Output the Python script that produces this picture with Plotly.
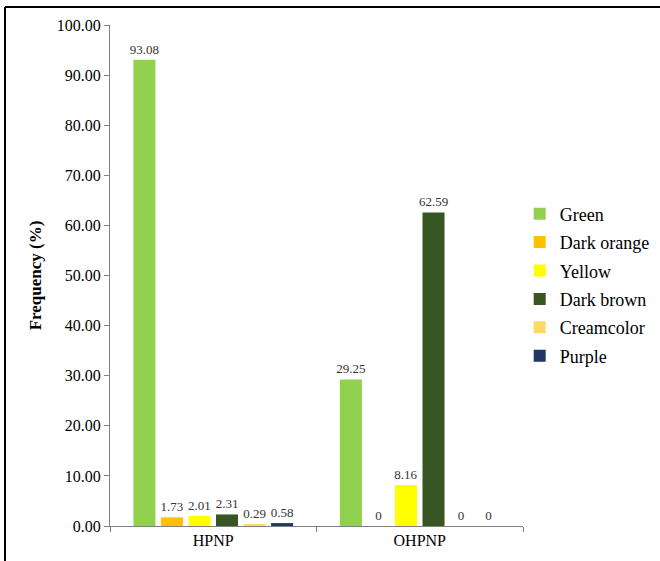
import plotly.graph_objects as go

categories = ["HPNP", "OHPNP"]
series_names = ["Green", "Dark orange", "Yellow", "Dark brown", "Creamcolor", "Purple"]
green = [93.08, 29.25]
dark_orange = [1.73, 0]
yellow = [2.01, 8.16]
dark_brown = [2.31, 62.59]
creamcolor = [0.29, 0]
purple = [0.58, 0]
y_ticks = [0, 10, 20, 30, 40, 50, 60, 70, 80, 90, 100]

series_values = [green, dark_orange, yellow, dark_brown, creamcolor, purple]
colors = ["#92D050", "#FFC000", "#FFFF00", "#375623", "#FFD966", "#1F3864"]

FONT = "Liberation Serif"

fig = go.Figure()
for i, (name, vals, col) in enumerate(zip(series_names, series_values, colors)):
    fig.add_trace(go.Bar(
        name=name, x=categories, y=vals,
        marker=dict(color=col, line=dict(width=0)),
        text=[f"{v:g}" for v in vals], textposition="outside",
        constraintext="none",
        textfont=dict(family=FONT, size=13, color="#333333"),
        cliponaxis=False, legendgroup=name,
    ))

fig.update_layout(
    width=660, height=561,
    margin=dict(l=110, r=137, t=25, b=35, autoexpand=False),
    paper_bgcolor="white", plot_bgcolor="white",
    barmode="group", bargap=0.2, bargroupgap=0.2,
    font=dict(family=FONT, color="#000000"),
    showlegend=True,
    legend=dict(x=0.992, xanchor="left", y=0.481, yanchor="middle",
                font=dict(family=FONT, size=18, color="#000"),
                tracegroupgap=2, bgcolor="rgba(0,0,0,0)"),
    xaxis=dict(showline=True, linecolor="#808080", linewidth=1,
               ticks="outside", tickson="boundaries", ticklen=5, tickcolor="#808080",
               tickfont=dict(family=FONT, size=16, color="#000"),
               showgrid=False),
    yaxis=dict(range=[0, 100], tickvals=y_ticks, tickformat=".2f",
               showline=True, linecolor="#808080", linewidth=1,
               ticks="outside", ticklen=5, tickcolor="#808080",
               tickfont=dict(family=FONT, size=16, color="#000"),
               showgrid=False, zeroline=False,
               title=dict(text="<b>Frequency (%)</b>", font=dict(family=FONT, size=17, color="#000"),
                          standoff=10)),
    shapes=[
        dict(type="line", xref="paper", yref="paper", x0=(5-110)/413, x1=(5-110)/413,
             y0=(526-561)/501, y1=1+(25-7)/501, line=dict(color="#000", width=2)),
        dict(type="line", xref="paper", yref="paper", x0=(5-110)/413, x1=(661-110)/413,
             y0=1+(25-7)/501, y1=1+(25-7)/501, line=dict(color="#000", width=2)),
    ],
)

fig.write_html("out.html", config={"displayModeBar": False},
               post_script="document.body.style.margin='0';")
